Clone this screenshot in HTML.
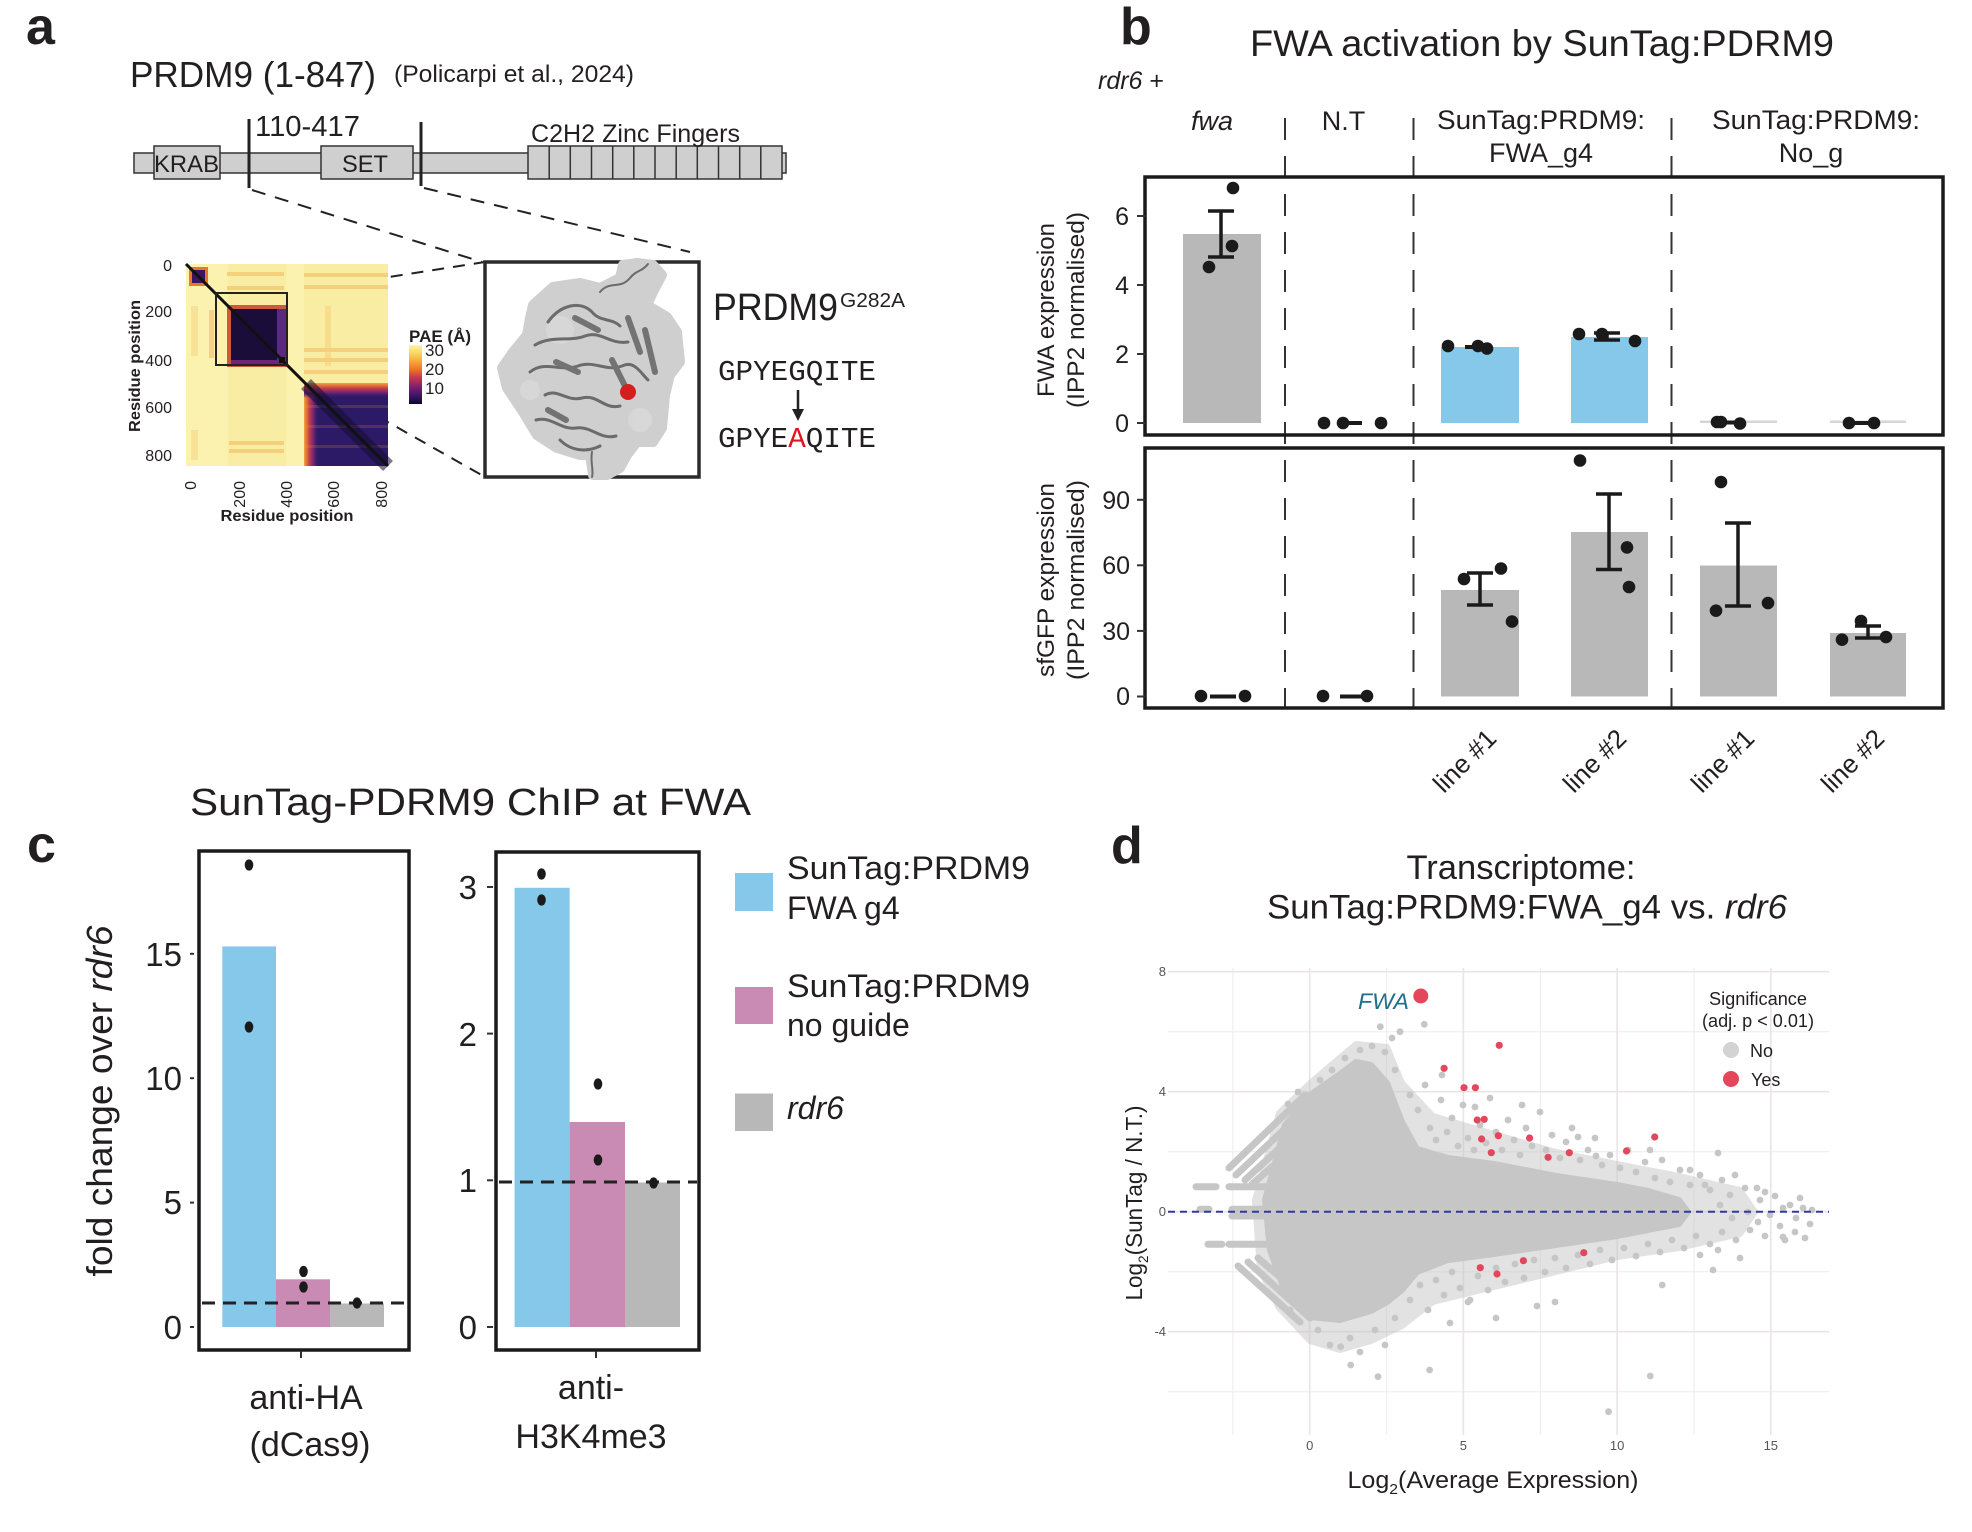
<!DOCTYPE html>
<html><head><meta charset="utf-8">
<style>
html,body{margin:0;padding:0;background:#fff;}
svg{display:block;}
text{font-family:"Liberation Sans",Arial,sans-serif;fill:#231f20;}
.mono{font-family:"Liberation Mono","Courier New",monospace;}
.it{font-style:italic;}
.b{font-weight:bold;}
</style></head>
<body>
<svg width="1972" height="1532" viewBox="0 0 1972 1532" xmlns="http://www.w3.org/2000/svg">
<defs>
<linearGradient id="cbar" x1="0" y1="0" x2="0" y2="1">
<stop offset="0" stop-color="#fcf8a8"/><stop offset=".2" stop-color="#f8c54a"/><stop offset=".4" stop-color="#f07a22"/><stop offset=".55" stop-color="#c8384e"/><stop offset=".72" stop-color="#7a1f6e"/><stop offset=".87" stop-color="#3a1466"/><stop offset="1" stop-color="#0d0829"/>
</linearGradient>
<linearGradient id="edgeL" x1="0" y1="0" x2="1" y2="0">
<stop offset="0" stop-color="#f6a535"/><stop offset=".35" stop-color="#c63d4c"/><stop offset=".7" stop-color="#5e2174"/><stop offset="1" stop-color="#2c1a66" stop-opacity="0"/>
</linearGradient>
<linearGradient id="edgeT" x1="0" y1="0" x2="0" y2="1">
<stop offset="0" stop-color="#f6a535"/><stop offset=".35" stop-color="#c63d4c"/><stop offset=".7" stop-color="#5e2174"/><stop offset="1" stop-color="#2c1a66" stop-opacity="0"/>
</linearGradient>
</defs>
<rect width="1972" height="1532" fill="#fff"/>

<!-- ================= PANEL A ================= -->
<text x="26" y="44" font-size="52" class="b">a</text>
<text x="130" y="87" font-size="36" textLength="246" lengthAdjust="spacingAndGlyphs">PRDM9 (1-847)</text>
<text x="394" y="82" font-size="24" textLength="240" lengthAdjust="spacingAndGlyphs">(Policarpi et al., 2024)</text>

<rect x="134" y="153" width="652" height="20" fill="#cfcfcf" stroke="#333" stroke-width="1.5"/>
<rect x="154" y="146" width="66" height="33" fill="#cfcfcf" stroke="#333" stroke-width="1.5"/>
<rect x="321" y="146" width="92" height="33" fill="#cfcfcf" stroke="#333" stroke-width="1.5"/>
<rect x="528" y="146" width="254" height="33" fill="#cfcfcf" stroke="#333" stroke-width="1.5"/>
<g stroke="#333" stroke-width="1.5">
<line x1="549.2" y1="146" x2="549.2" y2="179"/><line x1="570.3" y1="146" x2="570.3" y2="179"/><line x1="591.5" y1="146" x2="591.5" y2="179"/><line x1="612.7" y1="146" x2="612.7" y2="179"/><line x1="633.8" y1="146" x2="633.8" y2="179"/><line x1="655" y1="146" x2="655" y2="179"/><line x1="676.2" y1="146" x2="676.2" y2="179"/><line x1="697.3" y1="146" x2="697.3" y2="179"/><line x1="718.5" y1="146" x2="718.5" y2="179"/><line x1="739.7" y1="146" x2="739.7" y2="179"/><line x1="760.8" y1="146" x2="760.8" y2="179"/>
</g>
<text x="154" y="172" font-size="24" textLength="65" lengthAdjust="spacingAndGlyphs">KRAB</text>
<text x="342" y="172" font-size="24" textLength="46" lengthAdjust="spacingAndGlyphs">SET</text>
<line x1="249" y1="119" x2="249" y2="188" stroke="#222" stroke-width="3"/>
<line x1="421" y1="122" x2="421" y2="186" stroke="#222" stroke-width="3"/>
<text x="255" y="136" font-size="29" textLength="105" lengthAdjust="spacingAndGlyphs">110-417</text>
<text x="531" y="142" font-size="25" textLength="209" lengthAdjust="spacingAndGlyphs">C2H2 Zinc Fingers</text>
<g stroke="#222" stroke-width="2" stroke-dasharray="14 10" fill="none">
<line x1="252" y1="190" x2="482" y2="262"/>
<line x1="424" y1="188" x2="690" y2="252"/>
<line x1="287" y1="293" x2="485" y2="262" stroke-dasharray="12 9"/>
<line x1="287" y1="365" x2="485" y2="477" stroke-dasharray="12 9"/>
</g>

<!-- heatmap -->
<rect x="186" y="264" width="202" height="202" fill="#f8eda2"/>
<rect x="186" y="264" width="42" height="202" fill="#fbf3b4" opacity=".7"/>
<rect x="286" y="264" width="18" height="202" fill="#fbf3b4" opacity=".7"/>
<g fill="#eea040" opacity=".38">
<rect x="227" y="272" width="57" height="4"/><rect x="227" y="286" width="57" height="4"/>
<rect x="304" y="273" width="84" height="4"/><rect x="304" y="285" width="84" height="4"/>
<rect x="304" y="348" width="84" height="4"/><rect x="304" y="358" width="84" height="4"/><rect x="304" y="370" width="84" height="4"/>
<rect x="229" y="441" width="55" height="4"/><rect x="229" y="449" width="55" height="4"/>
<rect x="209" y="310" width="5" height="48"/>
<rect x="191" y="306" width="7" height="50" opacity=".5"/>
<rect x="191" y="430" width="7" height="30" opacity=".5"/>
<rect x="325" y="306" width="6" height="60" opacity=".6"/>
</g>
<rect x="189" y="267" width="19" height="19" fill="#e5782c"/>
<rect x="192" y="270" width="13" height="13" fill="#3b1561"/>
<rect x="227" y="305" width="61" height="62" fill="#d0583c"/>
<rect x="231" y="309" width="47" height="52" fill="#1b0d3a"/>
<rect x="277" y="309" width="9" height="56" fill="#5a2a82"/>
<rect x="231" y="360" width="55" height="6" fill="#6e2674"/>
<rect x="279" y="357" width="6" height="6" fill="#111"/>
<rect x="304" y="383" width="84" height="83" fill="#2c1a66"/>
<rect x="304" y="383" width="15" height="83" fill="url(#edgeL)"/>
<rect x="304" y="383" width="84" height="15" fill="url(#edgeT)"/>
<g fill="#f0a040" opacity=".18">
<rect x="304" y="405" width="84" height="3"/><rect x="304" y="425" width="84" height="3"/><rect x="304" y="445" width="84" height="3"/>
</g>
<line x1="306" y1="384" x2="388" y2="466" stroke="#150c33" stroke-width="14" opacity=".55"/>
<line x1="186" y1="264" x2="388" y2="466" stroke="#111" stroke-width="3"/>
<rect x="216" y="293" width="71" height="72" fill="none" stroke="#222" stroke-width="2"/>
<g font-size="16" fill="#333" text-anchor="end">
<text x="172" y="271">0</text><text x="172" y="317">200</text><text x="172" y="366">400</text><text x="172" y="413">600</text><text x="172" y="461">800</text>
</g>
<g font-size="16" fill="#333" text-anchor="end">
<text transform="translate(196,481) rotate(-90)">0</text>
<text transform="translate(245,481) rotate(-90)">200</text>
<text transform="translate(292,481) rotate(-90)">400</text>
<text transform="translate(339,481) rotate(-90)">600</text>
<text transform="translate(387,481) rotate(-90)">800</text>
</g>
<text x="287" y="521" font-size="16" class="b" text-anchor="middle" fill="#333" textLength="133" lengthAdjust="spacingAndGlyphs">Residue position</text>
<text transform="translate(140,366) rotate(-90)" font-size="16" class="b" text-anchor="middle" fill="#333" textLength="132" lengthAdjust="spacingAndGlyphs">Residue position</text>
<text x="409" y="342" font-size="17" class="b" fill="#333">PAE (Å)</text>
<rect x="409" y="345" width="13" height="59" fill="url(#cbar)"/>
<g font-size="17" fill="#333"><text x="425" y="356">30</text><text x="425" y="375">20</text><text x="425" y="394">10</text></g>

<!-- structure -->
<rect x="485" y="262" width="214" height="215" fill="#fff" stroke="#2b2b2b" stroke-width="3.5"/>
<polygon points="533,305 553,287 580,283 600,288 620,278 623,265 637,263 653,265 662,275 653,292 647,305 667,317 677,332 680,362 670,375 665,395 662,428 653,442 637,442 627,455 620,468 607,475 593,475 590,455 580,455 557,448 537,435 523,412 507,388 502,368 513,352 527,335 530,318" fill="#cfcfcf" stroke="#cfcfcf" stroke-width="10" stroke-linejoin="round"/>
<g fill="#dadada" opacity=".8"><circle cx="560" cy="330" r="14"/><circle cx="640" cy="420" r="12"/><circle cx="530" cy="390" r="10"/></g>
<g fill="none" stroke="#6b6b6b" stroke-width="3" stroke-linecap="round">
<path d="M548,322 C560,305 580,300 592,312 C600,322 612,318 620,326"/>
<path d="M535,345 C552,335 570,342 585,336 C600,330 610,345 628,342"/>
<path d="M530,372 C545,360 560,372 578,366 C594,360 606,372 622,366 C634,360 640,372 648,380"/>
<path d="M545,395 C558,388 566,402 582,398 C598,394 604,410 620,406"/>
<path d="M536,420 C552,416 560,430 576,428 C592,426 600,440 616,436"/>
<path d="M560,440 C572,452 588,452 600,446"/>
<path d="M600,292 C610,280 620,290 630,278 C636,270 642,272 648,264" stroke-width="2"/>
<path d="M592,452 C590,462 594,470 592,477" stroke-width="2"/>
</g>
<g stroke="#737373" stroke-width="6" stroke-linecap="round">
<line x1="628" y1="318" x2="640" y2="352"/><line x1="645" y1="330" x2="655" y2="372"/><line x1="612" y1="360" x2="628" y2="392"/>
<line x1="575" y1="318" x2="598" y2="330"/><line x1="556" y1="362" x2="578" y2="372"/><line x1="548" y1="410" x2="566" y2="420"/>
</g>
<circle cx="628" cy="392" r="8" fill="#d41f1f"/>
<text x="713" y="320" font-size="38" textLength="125" lengthAdjust="spacingAndGlyphs">PRDM9</text>
<text x="840" y="307" font-size="20" textLength="65" lengthAdjust="spacingAndGlyphs">G282A</text>
<text x="718" y="380" font-size="29" class="mono" fill="#333" textLength="158" lengthAdjust="spacingAndGlyphs">GPYEGQITE</text>
<line x1="798" y1="390" x2="798" y2="413" stroke="#222" stroke-width="2.5"/>
<polygon points="792,409 804,409 798,421" fill="#222"/>
<text x="718" y="447" font-size="29" class="mono" fill="#333" textLength="158" lengthAdjust="spacingAndGlyphs">GPYE<tspan fill="#e0141e">A</tspan>QITE</text>

<!-- ================= PANEL B ================= -->
<text x="1120" y="44" font-size="52" class="b">b</text>
<text x="1250" y="56" font-size="37" textLength="584" lengthAdjust="spacingAndGlyphs">FWA activation by SunTag:PDRM9</text>
<text x="1098" y="89" font-size="25"><tspan class="it">rdr6</tspan> +</text>
<g font-size="27" text-anchor="middle">
<text x="1212" y="130" class="it">fwa</text>
<text x="1343.5" y="130">N.T</text>
<text x="1541" y="129" textLength="208" lengthAdjust="spacingAndGlyphs">SunTag:PRDM9:</text>
<text x="1541" y="162">FWA_g4</text>
<text x="1816" y="129" textLength="208" lengthAdjust="spacingAndGlyphs">SunTag:PRDM9:</text>
<text x="1811" y="162">No_g</text>
</g>
<g stroke="#333" stroke-width="2" stroke-dasharray="22 16">
<line x1="1285" y1="118" x2="1285" y2="708"/>
<line x1="1413.5" y1="118" x2="1413.5" y2="708"/>
<line x1="1671.5" y1="118" x2="1671.5" y2="708"/>
</g>
<g fill="#b8b8b8">
<rect x="1183" y="234" width="78" height="189"/>
<rect x="1700" y="420.5" width="77" height="2.5" fill="#d6d6d6"/>
<rect x="1830" y="420.5" width="76" height="2.5" fill="#d6d6d6"/>
</g>
<rect x="1441" y="347" width="78" height="76" fill="#86c8ea"/>
<rect x="1571" y="337" width="77" height="86" fill="#86c8ea"/>
<g stroke="#1a1a1a" stroke-width="3.5" fill="none">
<line x1="1221" y1="211" x2="1221" y2="257"/><line x1="1208" y1="211" x2="1234" y2="211"/><line x1="1208" y1="257" x2="1234" y2="257"/>
<line x1="1343" y1="423" x2="1362" y2="423" stroke-width="4"/>
<line x1="1465" y1="347" x2="1482" y2="347" stroke-width="4"/>
<line x1="1607" y1="333" x2="1607" y2="340"/><line x1="1594" y1="333" x2="1620" y2="333"/><line x1="1594" y1="340" x2="1620" y2="340"/>
<line x1="1721" y1="422.5" x2="1740" y2="422.5" stroke-width="4"/>
<line x1="1849" y1="423" x2="1874" y2="423" stroke-width="4"/>
</g>
<g fill="#1a1a1a">
<circle cx="1233" cy="188" r="6.3"/><circle cx="1232" cy="246" r="6.3"/><circle cx="1209" cy="267" r="6.3"/>
<circle cx="1324" cy="423" r="6.3"/><circle cx="1343" cy="423" r="6.3"/><circle cx="1381" cy="423" r="6.3"/>
<circle cx="1448" cy="346" r="6.3"/><circle cx="1478" cy="346" r="6.3"/><circle cx="1487" cy="348.5" r="6.3"/>
<circle cx="1579" cy="334" r="6.3"/><circle cx="1602" cy="334" r="6.3"/><circle cx="1635" cy="341" r="6.3"/>
<circle cx="1717" cy="422" r="6.3"/><circle cx="1721" cy="422" r="6.3"/><circle cx="1740" cy="423.5" r="6.3"/>
<circle cx="1849" cy="423" r="6.3"/><circle cx="1874" cy="423" r="6.3"/>
</g>
<rect x="1145" y="177" width="798" height="258" fill="none" stroke="#1a1a1a" stroke-width="3.5"/>
<g stroke="#333" stroke-width="2"><line x1="1137" y1="216" x2="1145" y2="216"/><line x1="1137" y1="285" x2="1145" y2="285"/><line x1="1137" y1="354" x2="1145" y2="354"/><line x1="1137" y1="423" x2="1145" y2="423"/></g>
<g font-size="25" text-anchor="end"><text x="1129" y="225">6</text><text x="1129" y="294">4</text><text x="1129" y="363">2</text><text x="1129" y="432">0</text></g>
<text transform="translate(1054,310) rotate(-90)" font-size="24" text-anchor="middle" textLength="174" lengthAdjust="spacingAndGlyphs">FWA expression</text>
<text transform="translate(1084,310) rotate(-90)" font-size="24" text-anchor="middle" textLength="196" lengthAdjust="spacingAndGlyphs">(IPP2 normalised)</text>
<g fill="#b8b8b8">
<rect x="1441" y="590" width="78" height="106.5"/>
<rect x="1571" y="532" width="77" height="164.5"/>
<rect x="1700" y="565.5" width="77" height="131"/>
<rect x="1830" y="633" width="76" height="63.5"/>
</g>
<g stroke="#1a1a1a" stroke-width="3.5" fill="none">
<line x1="1210" y1="696.5" x2="1236" y2="696.5" stroke-width="4"/>
<line x1="1340" y1="696.5" x2="1364" y2="696.5" stroke-width="4"/>
<line x1="1480" y1="573" x2="1480" y2="605"/><line x1="1467" y1="573" x2="1493" y2="573"/><line x1="1467" y1="605" x2="1493" y2="605"/>
<line x1="1609" y1="494" x2="1609" y2="569.5"/><line x1="1596" y1="494" x2="1622" y2="494"/><line x1="1596" y1="569.5" x2="1622" y2="569.5"/>
<line x1="1738" y1="523" x2="1738" y2="606"/><line x1="1725" y1="523" x2="1751" y2="523"/><line x1="1725" y1="606" x2="1751" y2="606"/>
<line x1="1868" y1="626" x2="1868" y2="638"/><line x1="1855" y1="626" x2="1881" y2="626"/><line x1="1855" y1="638" x2="1881" y2="638"/>
</g>
<g fill="#1a1a1a">
<circle cx="1201" cy="696" r="6.3"/><circle cx="1245" cy="696" r="6.3"/>
<circle cx="1323" cy="696" r="6.3"/><circle cx="1367" cy="696" r="6.3"/>
<circle cx="1464" cy="579" r="6.3"/><circle cx="1501" cy="568.5" r="6.3"/><circle cx="1512" cy="621.6" r="6.3"/>
<circle cx="1580" cy="460.5" r="6.3"/><circle cx="1627" cy="547.4" r="6.3"/><circle cx="1629" cy="587" r="6.3"/>
<circle cx="1721" cy="482" r="6.3"/><circle cx="1716" cy="610.7" r="6.3"/><circle cx="1768" cy="603" r="6.3"/>
<circle cx="1842" cy="639.7" r="6.3"/><circle cx="1861" cy="621" r="6.3"/><circle cx="1886" cy="637" r="6.3"/>
</g>
<rect x="1145" y="448" width="798" height="260" fill="none" stroke="#1a1a1a" stroke-width="3.5"/>
<g stroke="#333" stroke-width="2"><line x1="1137" y1="499.8" x2="1145" y2="499.8"/><line x1="1137" y1="565.3" x2="1145" y2="565.3"/><line x1="1137" y1="630.9" x2="1145" y2="630.9"/><line x1="1137" y1="696.5" x2="1145" y2="696.5"/></g>
<g font-size="25" text-anchor="end"><text x="1130" y="509">90</text><text x="1130" y="574">60</text><text x="1130" y="640">30</text><text x="1130" y="705">0</text></g>
<text transform="translate(1054,580) rotate(-90)" font-size="24" text-anchor="middle" textLength="194" lengthAdjust="spacingAndGlyphs">sfGFP expression</text>
<text transform="translate(1084,580) rotate(-90)" font-size="24" text-anchor="middle" textLength="200" lengthAdjust="spacingAndGlyphs">(IPP2 normalised)</text>
<g font-size="26" text-anchor="end">
<text transform="translate(1498,740) rotate(-45)">line #1</text>
<text transform="translate(1628,740) rotate(-45)">line #2</text>
<text transform="translate(1756,740) rotate(-45)">line #1</text>
<text transform="translate(1886,740) rotate(-45)">line #2</text>
</g>

<!-- ================= PANEL C ================= -->
<text x="27" y="862" font-size="52" class="b">c</text>
<text x="190" y="815" font-size="38" textLength="561" lengthAdjust="spacingAndGlyphs">SunTag-PDRM9 ChIP at FWA</text>
<text transform="translate(112,1101) rotate(-90)" font-size="36" text-anchor="middle" textLength="351" lengthAdjust="spacingAndGlyphs">fold change over <tspan class="it">rdr6</tspan></text>
<rect x="222.3" y="946.4" width="53.7" height="380.6" fill="#86c8ea"/>
<rect x="276" y="1279.3" width="54" height="47.7" fill="#c98bb4"/>
<rect x="330" y="1303.5" width="54" height="23.5" fill="#b8b8b8"/>
<line x1="202" y1="1303" x2="405" y2="1303" stroke="#222" stroke-width="3" stroke-dasharray="13 8"/>
<g fill="#1a1a1a">
<ellipse cx="249" cy="865" rx="4.3" ry="5.6"/><ellipse cx="249" cy="1027" rx="4.3" ry="5.6"/>
<ellipse cx="303.5" cy="1271.5" rx="4.3" ry="5.6"/><ellipse cx="303.5" cy="1287" rx="4.3" ry="5.6"/>
<ellipse cx="357" cy="1303" rx="4.3" ry="5.6"/>
</g>
<rect x="199" y="851" width="210" height="499" fill="none" stroke="#1a1a1a" stroke-width="3.5"/>
<g stroke="#333" stroke-width="2"><line x1="190" y1="953.8" x2="194" y2="953.8"/><line x1="190" y1="1078.2" x2="194" y2="1078.2"/><line x1="190" y1="1202.6" x2="194" y2="1202.6"/><line x1="190" y1="1327" x2="194" y2="1327"/><line x1="301" y1="1351" x2="301" y2="1358"/></g>
<g font-size="33" text-anchor="end"><text x="182" y="966">15</text><text x="182" y="1090">10</text><text x="182" y="1214">5</text><text x="182" y="1339">0</text></g>
<rect x="514.6" y="887.8" width="55" height="439.2" fill="#86c8ea"/>
<rect x="569.6" y="1122" width="55.4" height="205" fill="#c98bb4"/>
<rect x="625" y="1182.5" width="55" height="144.5" fill="#b8b8b8"/>
<line x1="499" y1="1182" x2="697" y2="1182" stroke="#222" stroke-width="3" stroke-dasharray="13 8"/>
<g fill="#1a1a1a">
<ellipse cx="541.5" cy="874" rx="4.3" ry="5.6"/><ellipse cx="541.5" cy="900" rx="4.3" ry="5.6"/>
<ellipse cx="598" cy="1084" rx="4.3" ry="5.6"/><ellipse cx="598" cy="1160" rx="4.3" ry="5.6"/>
<ellipse cx="653.6" cy="1183" rx="4.3" ry="5.6"/>
</g>
<rect x="496" y="852" width="203" height="498" fill="none" stroke="#1a1a1a" stroke-width="3.5"/>
<g stroke="#333" stroke-width="2"><line x1="487" y1="887" x2="493" y2="887"/><line x1="487" y1="1033.6" x2="493" y2="1033.6"/><line x1="487" y1="1180.3" x2="493" y2="1180.3"/><line x1="487" y1="1327" x2="493" y2="1327"/><line x1="596" y1="1351" x2="596" y2="1358"/></g>
<g font-size="33" text-anchor="end"><text x="477" y="899">3</text><text x="477" y="1046">2</text><text x="477" y="1192">1</text><text x="477" y="1339">0</text></g>
<g font-size="34" text-anchor="middle">
<text x="306" y="1409">anti-HA</text><text x="310" y="1456">(dCas9)</text>
<text x="591" y="1399">anti-</text><text x="591" y="1448">H3K4me3</text>
</g>
<rect x="735" y="873" width="38" height="38" fill="#86c8ea"/>
<rect x="735" y="987" width="38" height="37" fill="#c98bb4"/>
<rect x="735" y="1093.5" width="38" height="37.5" fill="#b8b8b8"/>
<g font-size="32">
<text x="787" y="879" textLength="243" lengthAdjust="spacingAndGlyphs">SunTag:PRDM9</text>
<text x="787" y="919">FWA g4</text>
<text x="787" y="997" textLength="243" lengthAdjust="spacingAndGlyphs">SunTag:PRDM9</text>
<text x="787" y="1036">no guide</text>
<text x="787" y="1119" class="it">rdr6</text>
</g>

<!-- ================= PANEL D ================= -->
<text x="1111" y="863" font-size="52" class="b">d</text>
<text x="1521" y="879" font-size="34" text-anchor="middle" textLength="229" lengthAdjust="spacingAndGlyphs">Transcriptome:</text>
<text x="1267" y="918.5" font-size="34" textLength="520" lengthAdjust="spacingAndGlyphs">SunTag:PRDM9:FWA_g4 vs. <tspan class="it">rdr6</tspan></text>
<g stroke="#f0eaeb" stroke-width="1">
<line x1="1232.9" y1="968" x2="1232.9" y2="1435"/><line x1="1386.6" y1="968" x2="1386.6" y2="1435"/><line x1="1540.3" y1="968" x2="1540.3" y2="1435"/><line x1="1694" y1="968" x2="1694" y2="1435"/>
<line x1="1168" y1="1031.7" x2="1829" y2="1031.7"/><line x1="1168" y1="1151.7" x2="1829" y2="1151.7"/><line x1="1168" y1="1271.7" x2="1829" y2="1271.7"/><line x1="1168" y1="1391.7" x2="1829" y2="1391.7"/>
</g>
<g stroke="#ebe4e6" stroke-width="1.6">
<line x1="1309.7" y1="968" x2="1309.7" y2="1435"/><line x1="1463.4" y1="968" x2="1463.4" y2="1435"/><line x1="1617.1" y1="968" x2="1617.1" y2="1435"/><line x1="1770.8" y1="968" x2="1770.8" y2="1435"/>
<line x1="1168" y1="971.7" x2="1829" y2="971.7"/><line x1="1168" y1="1091.7" x2="1829" y2="1091.7"/><line x1="1168" y1="1211.7" x2="1829" y2="1211.7"/><line x1="1168" y1="1331.7" x2="1829" y2="1331.7"/>
</g>
<!-- cloud -->
<g fill="#c6c6c6">
<polygon opacity=".5" stroke="#c6c6c6" stroke-width="6" stroke-linejoin="round" points="1279,1113 1310,1083 1356,1044 1387,1047 1402,1083 1433,1116 1494,1134 1556,1152 1617,1164 1679,1176 1740,1190 1755,1212 1740,1234 1679,1248 1617,1257 1556,1272 1494,1287 1433,1302 1402,1326 1371,1341 1340,1350 1310,1341 1279,1308 1260,1270 1255,1200"/>
<polygon stroke="#c6c6c6" stroke-width="6" stroke-linejoin="round" points="1285,1125 1310,1095 1340,1074 1356,1062 1371,1065 1387,1083 1402,1122 1417,1149 1448,1158 1494,1164 1556,1176 1617,1185 1648,1191 1679,1200 1688,1212 1679,1224 1648,1230 1617,1236 1556,1245 1494,1254 1448,1260 1417,1272 1402,1290 1387,1302 1371,1311 1340,1320 1310,1317 1285,1292 1270,1250 1265,1200"/>
</g>
<g stroke="#c6c6c6" stroke-width="7" stroke-linecap="round" fill="none">
<line x1="1229" y1="1168" x2="1305" y2="1095"/><line x1="1236" y1="1175" x2="1310" y2="1105"/><line x1="1245" y1="1180" x2="1312" y2="1118"/><line x1="1252" y1="1184" x2="1315" y2="1130"/>
<line x1="1238" y1="1266" x2="1300" y2="1322"/><line x1="1248" y1="1262" x2="1310" y2="1318"/><line x1="1258" y1="1258" x2="1318" y2="1310"/>
<line x1="1196" y1="1186.7" x2="1216" y2="1186.7"/><line x1="1229" y1="1186.7" x2="1292" y2="1186.7"/>
<line x1="1200" y1="1209.3" x2="1209" y2="1209.3"/><line x1="1232" y1="1209.3" x2="1292" y2="1209.3"/>
<line x1="1232" y1="1216" x2="1292" y2="1216"/>
<line x1="1208" y1="1244.3" x2="1222" y2="1244.3"/><line x1="1229" y1="1244.3" x2="1292" y2="1244.3"/>
</g>
<g fill="#c6c6c6">
<circle cx="1410" cy="1095" r="3.4"/><circle cx="1418" cy="1110" r="3.4"/><circle cx="1425" cy="1085" r="3.4"/><circle cx="1430" cy="1128" r="3.4"/><circle cx="1436" cy="1140" r="3.4"/><circle cx="1441" cy="1100" r="3.4"/><circle cx="1447" cy="1132" r="3.4"/><circle cx="1452" cy="1118" r="3.4"/><circle cx="1458" cy="1146" r="3.4"/><circle cx="1463" cy="1105" r="3.4"/><circle cx="1468" cy="1138" r="3.4"/><circle cx="1474" cy="1150" r="3.4"/><circle cx="1480" cy="1125" r="3.4"/><circle cx="1486" cy="1143" r="3.4"/><circle cx="1490" cy="1098" r="3.4"/><circle cx="1496" cy="1132" r="3.4"/><circle cx="1502" cy="1150" r="3.4"/><circle cx="1508" cy="1120" r="3.4"/><circle cx="1514" cy="1140" r="3.4"/><circle cx="1520" cy="1155" r="3.4"/><circle cx="1526" cy="1128" r="3.4"/><circle cx="1532" cy="1146" r="3.4"/><circle cx="1540" cy="1112" r="3.4"/><circle cx="1546" cy="1150" r="3.4"/><circle cx="1552" cy="1135" r="3.4"/><circle cx="1560" cy="1158" r="3.4"/><circle cx="1566" cy="1142" r="3.4"/><circle cx="1572" cy="1128" r="3.4"/><circle cx="1580" cy="1160" r="3.4"/><circle cx="1588" cy="1150" r="3.4"/><circle cx="1595" cy="1138" r="3.4"/><circle cx="1602" cy="1165" r="3.4"/><circle cx="1610" cy="1155" r="3.4"/><circle cx="1620" cy="1168" r="3.4"/><circle cx="1628" cy="1150" r="3.4"/><circle cx="1636" cy="1172" r="3.4"/><circle cx="1645" cy="1162" r="3.4"/><circle cx="1655" cy="1178" r="3.4"/><circle cx="1662" cy="1160" r="3.4"/><circle cx="1670" cy="1182" r="3.4"/><circle cx="1680" cy="1170" r="3.4"/><circle cx="1690" cy="1185" r="3.4"/><circle cx="1700" cy="1175" r="3.4"/><circle cx="1710" cy="1190" r="3.4"/><circle cx="1722" cy="1180" r="3.4"/><circle cx="1730" cy="1195" r="3.4"/><circle cx="1745" cy="1188" r="3.4"/><circle cx="1760" cy="1200" r="3.4"/><circle cx="1775" cy="1196" r="3.4"/><circle cx="1790" cy="1205" r="3.4"/><circle cx="1800" cy="1198" r="3.4"/><circle cx="1812" cy="1210" r="3.4"/>
<circle cx="1410" cy="1300" r="3.4"/><circle cx="1420" cy="1285" r="3.4"/><circle cx="1428" cy="1310" r="3.4"/><circle cx="1436" cy="1280" r="3.4"/><circle cx="1444" cy="1295" r="3.4"/><circle cx="1452" cy="1272" r="3.4"/><circle cx="1460" cy="1288" r="3.4"/><circle cx="1470" cy="1300" r="3.4"/><circle cx="1478" cy="1276" r="3.4"/><circle cx="1488" cy="1290" r="3.4"/><circle cx="1496" cy="1268" r="3.4"/><circle cx="1505" cy="1282" r="3.4"/><circle cx="1515" cy="1264" r="3.4"/><circle cx="1524" cy="1278" r="3.4"/><circle cx="1534" cy="1260" r="3.4"/><circle cx="1545" cy="1272" r="3.4"/><circle cx="1555" cy="1258" r="3.4"/><circle cx="1566" cy="1268" r="3.4"/><circle cx="1578" cy="1255" r="3.4"/><circle cx="1590" cy="1264" r="3.4"/><circle cx="1600" cy="1250" r="3.4"/><circle cx="1612" cy="1260" r="3.4"/><circle cx="1624" cy="1248" r="3.4"/><circle cx="1636" cy="1256" r="3.4"/><circle cx="1648" cy="1244" r="3.4"/><circle cx="1660" cy="1252" r="3.4"/><circle cx="1672" cy="1240" r="3.4"/><circle cx="1684" cy="1248" r="3.4"/><circle cx="1696" cy="1236" r="3.4"/><circle cx="1710" cy="1244" r="3.4"/><circle cx="1722" cy="1232" r="3.4"/><circle cx="1736" cy="1240" r="3.4"/><circle cx="1750" cy="1230" r="3.4"/><circle cx="1765" cy="1236" r="3.4"/><circle cx="1780" cy="1226" r="3.4"/><circle cx="1795" cy="1232" r="3.4"/><circle cx="1810" cy="1224" r="3.4"/><circle cx="1375" cy="1330" r="3.4"/><circle cx="1385" cy="1345" r="3.4"/><circle cx="1395" cy="1318" r="3.4"/><circle cx="1360" cy="1352" r="3.4"/><circle cx="1350" cy="1338" r="3.4"/><circle cx="1330" cy="1345" r="3.4"/><circle cx="1318" cy="1330" r="3.4"/><circle cx="1300" cy="1322" r="3.4"/><circle cx="1290" cy="1310" r="3.4"/>
<circle cx="1320" cy="1080" r="3.4"/><circle cx="1332" cy="1070" r="3.4"/><circle cx="1345" cy="1058" r="3.4"/><circle cx="1360" cy="1050" r="3.4"/><circle cx="1372" cy="1046" r="3.4"/><circle cx="1385" cy="1052" r="3.4"/><circle cx="1395" cy="1070" r="3.4"/><circle cx="1298" cy="1092" r="3.4"/><circle cx="1288" cy="1104" r="3.4"/>
<circle cx="1705" cy="1185" r="3.4"/><circle cx="1720" cy="1205" r="3.4"/><circle cx="1732" cy="1218" r="3.4"/><circle cx="1748" cy="1212" r="3.4"/><circle cx="1758" cy="1222" r="3.4"/><circle cx="1770" cy="1215" r="3.4"/><circle cx="1783" cy="1208" r="3.4"/><circle cx="1796" cy="1218" r="3.4"/><circle cx="1735" cy="1175" r="3.4"/><circle cx="1765" cy="1192" r="3.4"/><circle cx="1690" cy="1170" r="3.4"/><circle cx="1785" cy="1240" r="3.4"/><circle cx="1650" cy="1150" r="3.4"/><circle cx="1700" cy="1255" r="3.4"/><circle cx="1740" cy="1258" r="3.4"/><circle cx="1805" cy="1238" r="3.4"/>
<circle cx="1608.5" cy="1411.7" r="3.4"/><circle cx="1650.3" cy="1376" r="3.4"/><circle cx="1662.2" cy="1285" r="3.4"/><circle cx="1378" cy="1376.7" r="3.4"/><circle cx="1429.6" cy="1370" r="3.4"/><circle cx="1350.7" cy="1365" r="3.4"/><circle cx="1340.6" cy="1346.7" r="3.4"/><circle cx="1424.3" cy="1024.3" r="3.4"/><circle cx="1380.3" cy="1026.7" r="3.4"/><circle cx="1400" cy="1031.7" r="3.4"/><circle cx="1392" cy="1038" r="3.4"/><circle cx="1442" cy="1075" r="3.4"/><circle cx="1475" cy="1107" r="3.4"/><circle cx="1522" cy="1105" r="3.4"/><circle cx="1578" cy="1137" r="3.4"/><circle cx="1596" cy="1156" r="3.4"/><circle cx="1718" cy="1153" r="3.4"/><circle cx="1718" cy="1250" r="3.4"/><circle cx="1757" cy="1188" r="3.4"/><circle cx="1783" cy="1237" r="3.4"/><circle cx="1803" cy="1208" r="3.4"/><circle cx="1713" cy="1270" r="3.4"/><circle cx="1537" cy="1306" r="3.4"/><circle cx="1555" cy="1302" r="3.4"/><circle cx="1496" cy="1318" r="3.4"/><circle cx="1468" cy="1302" r="3.4"/><circle cx="1450" cy="1323" r="3.4"/>
</g>
<line x1="1168" y1="1211.7" x2="1829" y2="1211.7" stroke="#2d3a9e" stroke-width="2" stroke-dasharray="7 5"/>
<g fill="#e2475b">
<circle cx="1444.1" cy="1068.3" r="3.6"/><circle cx="1499.2" cy="1045.3" r="3.6"/><circle cx="1464" cy="1087.7" r="3.6"/><circle cx="1475.4" cy="1087.7" r="3.6"/><circle cx="1477.2" cy="1120" r="3.6"/><circle cx="1484.2" cy="1119.3" r="3.6"/><circle cx="1481.6" cy="1139" r="3.6"/><circle cx="1498.3" cy="1135.7" r="3.6"/><circle cx="1529.6" cy="1138" r="3.6"/><circle cx="1491.3" cy="1152.7" r="3.6"/><circle cx="1548.1" cy="1157.3" r="3.6"/><circle cx="1569.3" cy="1152.7" r="3.6"/><circle cx="1626.5" cy="1151" r="3.6"/><circle cx="1654.7" cy="1137" r="3.6"/><circle cx="1480.3" cy="1267.7" r="3.6"/><circle cx="1497" cy="1274" r="3.6"/><circle cx="1523.4" cy="1260.7" r="3.6"/><circle cx="1583.8" cy="1252.7" r="3.6"/>
<circle cx="1420.8" cy="996" r="7.5"/>
</g>
<text x="1358" y="1009" font-size="22" class="it" style="fill:#1f6e8c" textLength="51" lengthAdjust="spacingAndGlyphs">FWA</text>
<g font-size="13" text-anchor="end">
<text x="1166" y="976" style="fill:#555">8</text><text x="1166" y="1096" style="fill:#555">4</text><text x="1166" y="1216" style="fill:#555">0</text><text x="1166" y="1336" style="fill:#555">-4</text>
</g>
<g font-size="13" text-anchor="middle">
<text x="1309.7" y="1450" style="fill:#555">0</text><text x="1463.4" y="1450" style="fill:#555">5</text><text x="1617.1" y="1450" style="fill:#555">10</text><text x="1770.8" y="1450" style="fill:#555">15</text>
</g>
<text x="1493" y="1488" font-size="24" text-anchor="middle" textLength="291" lengthAdjust="spacingAndGlyphs">Log<tspan font-size="15" dy="6">2</tspan><tspan dy="-6">(Average Expression)</tspan></text>
<text transform="translate(1142,1203) rotate(-90)" font-size="23" text-anchor="middle" textLength="195" lengthAdjust="spacingAndGlyphs">Log<tspan font-size="14" dy="6">2</tspan><tspan dy="-6">(SunTag / N.T.)</tspan></text>
<g font-size="18" text-anchor="middle">
<text x="1758" y="1005" textLength="98" lengthAdjust="spacingAndGlyphs">Significance</text>
<text x="1758" y="1027" textLength="112" lengthAdjust="spacingAndGlyphs">(adj. p &lt; 0.01)</text>
</g>
<circle cx="1731" cy="1050" r="8" fill="#d3d3d3"/>
<circle cx="1731" cy="1079" r="8" fill="#e2475b"/>
<text x="1750" y="1057" font-size="18">No</text>
<text x="1751" y="1086" font-size="18">Yes</text>
</svg>
</body></html>
